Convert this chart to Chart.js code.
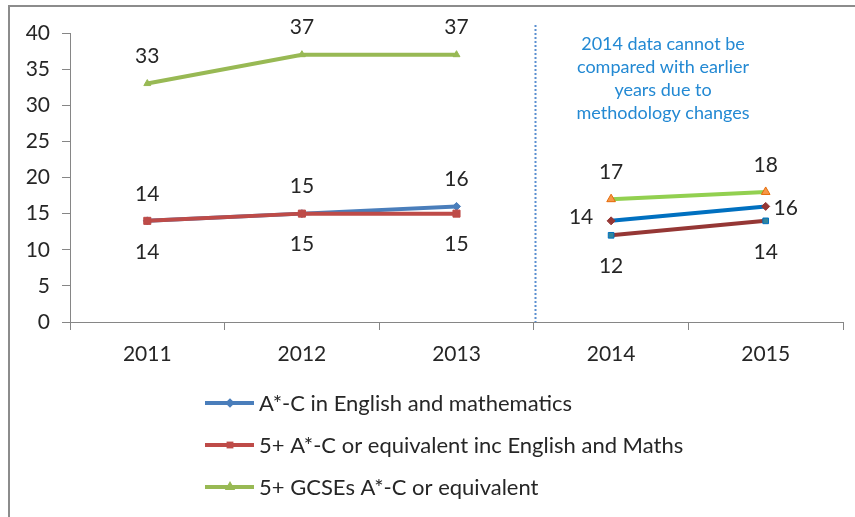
<!DOCTYPE html>
<html>
<head>
<meta charset="utf-8">
<script src="https://cdn.jsdelivr.net/npm/chart.js@4/dist/chart.umd.min.js"></script>
<style>
  html, body { margin: 0; padding: 0; background: #fff; }
  #wrap { width: 855px; height: 517px; }
</style>
</head>
<body>
<div id="wrap"><canvas id="chart" width="855" height="517"></canvas></div>
<script>
const years = ['2011', '2012', '2013', '2014', '2015'];
const yTicks = [0, 5, 10, 15, 20, 25, 30, 35, 40];

// old methodology (2011-2013)
const engMaths = [14, 15, 16, null, null];
const fivePlusEngMaths = [14, 15, 15, null, null];
const fivePlusGcse = [33, 37, 37, null, null];

// new methodology (2014-2015)
const engMathsNew = [null, null, null, 14, 16];
const fivePlusEngMathsNew = [null, null, null, 12, 14];
const fivePlusGcseNew = [null, null, null, 17, 18];

const legendNames = [
    'A*-C in English and mathematics',
    '5+ A*-C or equivalent inc English and Maths',
    '5+ GCSEs A*-C or equivalent'
];
const noteLines = ['2014 data cannot be', 'compared with earlier', 'years due to', 'methodology changes'];

const FONT = 'Lato, "Open Sans", sans-serif';
const TEXT = '#262626';
const AXIS = '#868686';

// draws the value labels next to points
const valueLabels = {
    id: 'valueLabels',
    afterDatasetsDraw(chart) {
        const ctx = chart.ctx;
        ctx.save();
        ctx.font = '21px ' + FONT;
        ctx.fillStyle = TEXT;
        ctx.textAlign = 'center';
        ctx.textBaseline = 'middle';
        chart.data.datasets.forEach((ds, i) => {
            const meta = chart.getDatasetMeta(i);
            meta.data.forEach((pt, j) => {
                const v = ds.data[j];
                if (v === null) return;
                const pos = Array.isArray(ds.labelPos) ? ds.labelPos[j] : ds.labelPos;
                let x = pt.x, y = pt.y;
                if (pos === 'top') y -= 27;
                if (pos === 'bottom') y += 31;
                if (pos === 'left') { x -= 30; y -= 4; }
                if (pos === 'right') { x += 20; y += 2; }
                ctx.fillText(String(v), x, y);
            });
        });
        ctx.restore();
    }
};

// dotted divider, note text, frame and legend
const extras = {
    id: 'extras',
    afterDraw(chart) {
        const ctx = chart.ctx;
        const xs = chart.scales.x;
        const area = chart.chartArea;
        ctx.save();

        // frame (top + left only visible)
        ctx.strokeStyle = '#8c8c8c';
        ctx.lineWidth = 2;
        ctx.beginPath();
        ctx.moveTo(9, 517);
        ctx.lineTo(9, 6);
        ctx.lineTo(855, 6);
        ctx.stroke();

        // divider
        const dx = Math.round((xs.getPixelForValue(2) + xs.getPixelForValue(3)) / 2) + 1.5;
        ctx.strokeStyle = '#5b8fd0';
        ctx.lineWidth = 2;
        ctx.setLineDash([2, 2]);
        ctx.beginPath();
        ctx.moveTo(dx, 25);
        ctx.lineTo(dx, area.bottom);
        ctx.stroke();
        ctx.setLineDash([]);

        // note
        ctx.fillStyle = '#2389d3';
        ctx.font = '18px ' + FONT;
        ctx.textAlign = 'center';
        ctx.textBaseline = 'middle';
        noteLines.forEach((t, i) => ctx.fillText(t, 663, 44 + i * 23));

        // legend
        const styles = chart.data.datasets.slice(0, 3);
        ctx.font = '22px ' + FONT;
        ctx.textAlign = 'left';
        styles.forEach((ds, i) => {
            const y = 403 + i * 42;
            ctx.strokeStyle = ds.borderColor;
            ctx.lineWidth = 4;
            ctx.beginPath();
            ctx.moveTo(205, y);
            ctx.lineTo(254, y);
            ctx.stroke();
            ctx.fillStyle = ds.pointBackgroundColor;
            ctx.strokeStyle = ds.pointBorderColor;
            Chart.helpers.drawPoint(ctx, { pointStyle: ds.pointStyle, radius: 2, borderWidth: 1 }, 230, y);
            ctx.fillStyle = TEXT;
            ctx.fillText(legendNames[i], 259, y + 1);
        });
        ctx.restore();
    }
};

function series(label, data, color, style, radius, marker, markerBorder, pos, order) {
    return {
        label: label,
        data: data,
        borderColor: color,
        borderWidth: 4,
        pointStyle: style,
        pointRadius: radius,
        pointBackgroundColor: marker,
        pointBorderColor: markerBorder,
        pointBorderWidth: 1,
        labelPos: pos,
        order: order,
        tension: 0,
        spanGaps: false
    };
}

new Chart(document.getElementById('chart'), {
    type: 'line',
    data: {
        labels: years,
        datasets: [
            series(legendNames[0], engMaths, '#4a7ebb', 'rectRot', 4, '#4a7ebb', '#4a7ebb', 'top', 2),
            series(legendNames[1], fivePlusEngMaths, '#be4b48', 'rect', 5, '#be4b48', '#be4b48', 'bottom', 1),
            series(legendNames[2], fivePlusGcse, '#98b954', 'triangle', 4, '#98b954', '#98b954', 'top', 0),
            series('new1', engMathsNew, '#0070c0', 'rectRot', 4, '#953735', '#953735', ['left', 'left', 'left', 'left', 'right'], 1),
            series('new2', fivePlusEngMathsNew, '#953735', 'rect', 4, '#31859c', '#0070c0', 'bottom', 2),
            series('new3', fivePlusGcseNew, '#92d050', 'triangle', 5, '#f79646', '#e46c0a', 'top', 0)
        ]
    },
    options: {
        responsive: false,
        animation: false,
        layout: { padding: { top: 33, right: 12, left: 0, bottom: 0 } },
        plugins: {
            legend: { display: false },
            tooltip: { enabled: false }
        },
        scales: {
            x: {
                offset: true,
                grid: { offset: true, drawOnChartArea: false, drawTicks: true, tickLength: 8, color: AXIS },
                border: { color: AXIS, width: 1 },
                ticks: { color: TEXT, font: { size: 21, family: FONT }, padding: 12 },
                afterFit(scale) { scale.height = 195; }
            },
            y: {
                min: 0,
                max: 40,
                afterBuildTicks(scale) { scale.ticks = yTicks.map(v => ({ value: v })); },
                grid: { drawOnChartArea: false, drawTicks: true, tickLength: 8, color: AXIS },
                border: { color: AXIS, width: 1 },
                ticks: { color: TEXT, font: { size: 21, family: FONT }, padding: 12 },
                afterFit(scale) { scale.width = 70; }
            }
        }
    },
    plugins: [valueLabels, extras]
});
</script>
</body>
</html>
